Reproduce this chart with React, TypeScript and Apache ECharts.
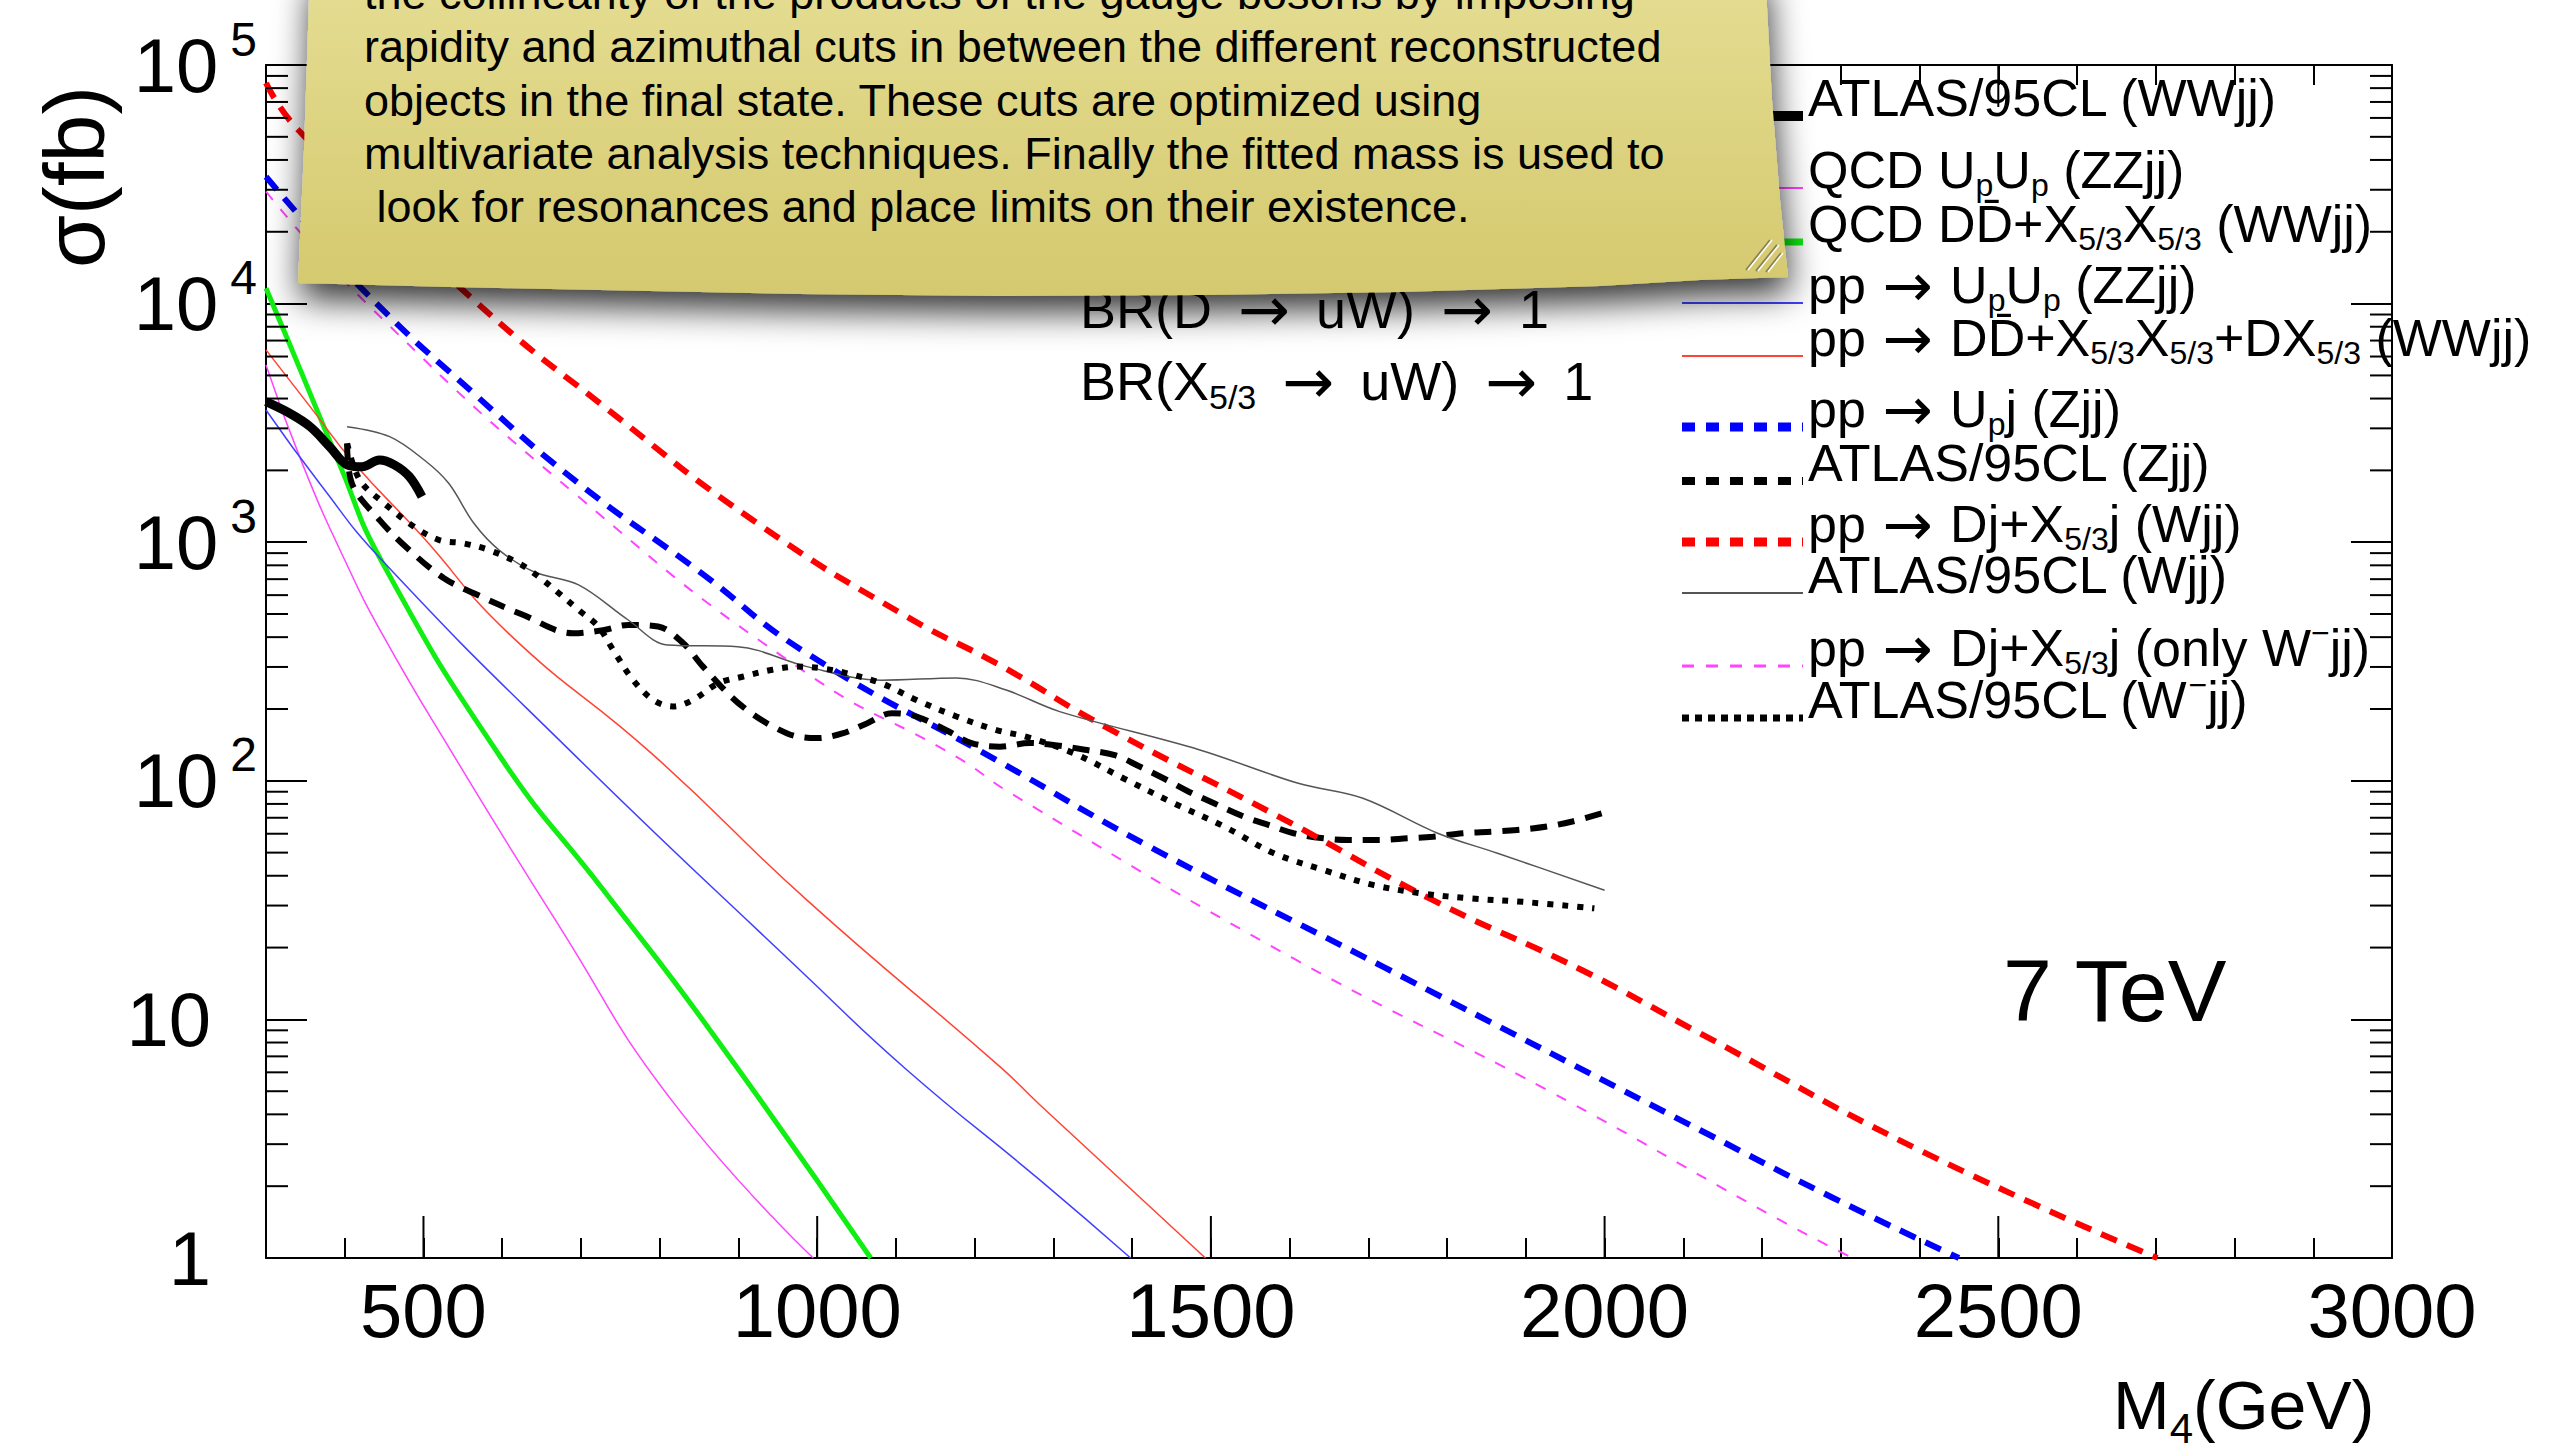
import React, { useEffect, useRef } from 'react';
import * as echarts from 'echarts';

const FONT = '"Liberation Sans", Arial, Helvetica, sans-serif';
const ARROW_FONT = '"DejaVu Sans", sans-serif';

// ---------- axes ----------
const X_MIN = 300;
const X_MAX = 3000;
const Y_MIN = 1;
const Y_MAX = 100000;
const X_LABEL_VALUES = [500, 1000, 1500, 2000, 2500, 3000];
const X_MAJOR_TICKS = [500, 1000, 1500, 2000, 2500];
const Y_DECADES = [1, 10, 100, 1000, 10000];
const Y_MINOR_MULTIPLES = [2, 3, 4, 5, 6, 7, 8, 9];

// ---------- data: [M4 (GeV), sigma (fb)] ----------
const ATLAS_WWJJ = [
  [300, 3880], [330, 3470], [356, 3050], [381, 2510], [403, 2110], [422, 2070],
  [444, 2210], [463, 2110], [482, 1884], [498, 1553],
];
const QCD_UPUP_ZZJJ = [
  [300, 5530], [346, 2140], [400, 842], [450, 399], [537, 130], [671, 25], [817, 4.5], [995, 1],
];
const QCD_DDXX_WWJJ = [
  [300, 11600], [333, 6400], [393, 2140], [446, 842], [599, 124], [728, 35], [861, 9.3], [1068, 1],
];
const PP_UPUP_ZZJJ = [
  [300, 3580], [368, 1766], [447, 842], [690, 130], [987, 15.1], [1114, 6.14], [1283, 2.12], [1398, 1],
];
const PP_DDXX_WWJJ = [
  [300, 6400], [356, 3700], [412, 2140], [495, 1089], [608, 415], [790, 130], [987, 31.6],
  [1232, 6.34], [1283, 4.38], [1493, 1],
];
const PP_UPJ_ZJJ = [
  [300, 34000], [349, 22000], [428, 11000], [564, 4200], [697, 1765], [848, 764], [987, 342],
  [1232, 120], [1422, 53], [1719, 16.6], [2121, 3.44], [2291, 1.78], [2450, 1],
];
const ATLAS_ZJJ = [
  [403, 2594], [409, 1766], [444, 1240], [482, 927], [526, 706], [564, 611], [627, 495], [690, 415],
  [728, 428], [760, 450], [798, 443], [830, 377], [855, 301], [905, 205], [962, 158], [1000, 151],
  [1032, 158], [1063, 174], [1095, 192], [1126, 186], [1164, 163], [1196, 144], [1232, 139],
  [1270, 144], [1302, 141], [1340, 135], [1378, 128], [1409, 115], [1441, 102], [1472, 90],
  [1504, 80.5], [1542, 70.8], [1573, 65.3], [1605, 60.3], [1643, 57.4], [1674, 56.5], [1712, 56.5],
  [1750, 57.4], [1782, 58.3], [1820, 60.3], [1858, 61.2], [1889, 62.2], [1927, 64.3], [1959, 67.5],
  [1997, 73.1],
];
const PP_DJXJ_WJJ = [
  [300, 84000], [341, 53400], [564, 10350], [735, 3580], [924, 1200], [1114, 487], [1232, 305],
  [1365, 169], [1586, 70.8], [1782, 31.6], [1971, 16.1], [2121, 8.75], [2404, 2.79], [2702, 1],
];
const ATLAS_WJJ = [
  [403, 3050], [457, 2770], [501, 2210], [532, 1766], [564, 1200], [596, 927], [640, 752], [697, 662],
  [760, 472], [810, 371], [899, 365], [987, 301], [1082, 264], [1177, 270], [1240, 240], [1308, 195],
  [1485, 135], [1611, 97.6], [1693, 84.5], [1788, 60.3], [1864, 49.7], [2000, 34.8],
];
const PP_DJXJ_WMJJ = [
  [300, 29500], [428, 10000], [697, 1550], [987, 282], [1177, 126], [1245, 89], [1605, 18],
  [1927, 5.06], [2223, 1.44], [2315, 1],
];
const ATLAS_WMJJ = [
  [403, 2594], [419, 1824], [450, 1456], [488, 1162], [520, 1021], [551, 989], [583, 927], [621, 816],
  [646, 718], [672, 611], [697, 520], [722, 443], [741, 353], [766, 265], [792, 218], [817, 205],
  [842, 218], [874, 256], [905, 273], [943, 292], [975, 301], [1006, 296], [1038, 282], [1082, 256],
  [1126, 218], [1177, 186], [1228, 163], [1265, 153], [1327, 130], [1390, 102], [1453, 80.5],
  [1517, 64.3], [1580, 49.7], [1643, 42.3], [1706, 36.6], [1769, 33.7], [1832, 32.1], [1896, 31.1],
  [1987, 29.2],
];

// ---------- texts ----------
const SERIES_NAMES = [
  'ATLAS/95CL (WWjj)',
  'QCD UpUp (ZZjj)',
  'QCD DD\u0304+X5/3X5/3 (WWjj)',
  'pp\u2192UpUp (ZZjj)',
  'pp\u2192DD\u0304+X5/3X5/3+DX5/3 (WWjj)',
  'pp\u2192Upj (Zjj)',
  'ATLAS/95CL (Zjj)',
  'pp\u2192Dj+X5/3j (Wjj)',
  'ATLAS/95CL (Wjj)',
  'pp\u2192Dj+X5/3j (only W\u2212jj)',
  'ATLAS/95CL (W\u2212jj)',
];
const LEGEND_TEXTS = [
  'ATLAS/95CL (WWjj)',
  'QCD U{sub|p}U{sub|p} (ZZjj)',
  'QCD DD\u0304+X{sub|5/3}X{sub|5/3} (WWjj)',
  'pp{arr|\u2192}U{sub|p}U{sub|p} (ZZjj)',
  'pp{arr|\u2192}DD\u0304+X{sub|5/3}X{sub|5/3}+DX{sub|5/3} (WWjj)',
  'pp{arr|\u2192}U{sub|p}j (Zjj)',
  'ATLAS/95CL (Zjj)',
  'pp{arr|\u2192}Dj+X{sub|5/3}j (Wjj)',
  'ATLAS/95CL (Wjj)',
  'pp{arr|\u2192}Dj+X{sub|5/3}j (only W{sup|\u2212}jj)',
  'ATLAS/95CL (W{sup|\u2212}jj)',
];
const BR_TEXTS = ['BR(D{arr|\u2192}uW){arr|\u2192}1', 'BR(X{sub|5/3}{arr|\u2192}uW){arr|\u2192}1'];
const NOTE_LINES = [
  'the collinearity of the products of the gauge bosons by imposing',
  'rapidity and azimuthal cuts in between the different reconstructed',
  'objects in the final state. These cuts are optimized using',
  'multivariate analysis techniques. Finally the fitted mass is used to',
  ' look for resonances and place limits on their existence.',
];

// ---------- styles ----------
type Sty = { color: string; width: number; dash: number[] | 'solid'; lw: number; ldash: number[] | null; smooth: number };
const STYLES: Sty[] = [
  { color: '#000000', width: 9, dash: 'solid', lw: 10, ldash: null, smooth: 0.35 },
  { color: '#ff44ff', width: 1.5, dash: 'solid', lw: 2, ldash: null, smooth: 0.5 },
  { color: '#11ee11', width: 5, dash: 'solid', lw: 7, ldash: null, smooth: 0.5 },
  { color: '#4040ff', width: 1.5, dash: 'solid', lw: 2, ldash: null, smooth: 0.5 },
  { color: '#ff4433', width: 1.5, dash: 'solid', lw: 2, ldash: null, smooth: 0.5 },
  { color: '#0000ff', width: 6, dash: [17, 11], lw: 9, ldash: [13, 11], smooth: 0.5 },
  { color: '#000000', width: 6, dash: [17, 11], lw: 8, ldash: [13, 11], smooth: 0.35 },
  { color: '#ff0000', width: 6, dash: [17, 11], lw: 9, ldash: [13, 11], smooth: 0.5 },
  { color: '#555555', width: 1.5, dash: 'solid', lw: 2, ldash: null, smooth: 0.35 },
  { color: '#ff44ff', width: 2, dash: [11, 12], lw: 3, ldash: [12, 12], smooth: 0.5 },
  { color: '#000000', width: 6, dash: [6, 9], lw: 7, ldash: [7, 6], smooth: 0.35 },
];
const SERIES_DATA = [
  ATLAS_WWJJ, QCD_UPUP_ZZJJ, QCD_DDXX_WWJJ, PP_UPUP_ZZJJ, PP_DDXX_WWJJ, PP_UPJ_ZJJ,
  ATLAS_ZJJ, PP_DJXJ_WJJ, ATLAS_WJJ, PP_DJXJ_WMJJ, ATLAS_WMJJ,
];
const LEGEND_BASELINES = [116, 188, 242, 303, 356, 427, 481, 542, 593, 666, 718];

function buildOption(): any {
  const series: any[] = SERIES_DATA.map((d, i) => ({
    name: SERIES_NAMES[i],
    type: 'line',
    data: d,
    showSymbol: false,
    symbol: 'none',
    smooth: STYLES[i].smooth,
    silent: true,
    z: i === 0 ? 4 : 3,
    lineStyle: { color: STYLES[i].color, width: STYLES[i].width, type: STYLES[i].dash, cap: 'butt' },
  }));

  const yMinor: number[][] = [];
  Y_DECADES.forEach((d) => Y_MINOR_MULTIPLES.forEach((m) => yMinor.push([X_MIN, m * d])));

  series.push({
    type: 'custom',
    name: 'xMajorTicks',
    silent: true,
    z: 6,
    data: X_MAJOR_TICKS.map((v) => [v, Y_MIN]),
    renderItem: (_p: any, api: any) => {
      const x = api.value(0);
      const b = api.coord([x, Y_MIN]);
      const t = api.coord([x, Y_MAX]);
      return {
        type: 'group',
        children: [
          { type: 'line', shape: { x1: b[0], y1: b[1], x2: b[0], y2: b[1] - 42 }, style: { stroke: '#000', lineWidth: 2 } },
          { type: 'line', shape: { x1: t[0], y1: t[1], x2: t[0], y2: t[1] + 42 }, style: { stroke: '#000', lineWidth: 2 } },
        ],
      };
    },
  });
  series.push({
    type: 'custom',
    name: 'yMinorTicks',
    silent: true,
    z: 6,
    data: yMinor,
    renderItem: (_p: any, api: any) => {
      const y = api.value(1);
      const l = api.coord([X_MIN, y]);
      const r = api.coord([X_MAX, y]);
      return {
        type: 'group',
        children: [
          { type: 'line', shape: { x1: l[0], y1: l[1], x2: l[0] + 22, y2: l[1] }, style: { stroke: '#000', lineWidth: 2 } },
          { type: 'line', shape: { x1: r[0], y1: r[1], x2: r[0] - 22, y2: r[1] }, style: { stroke: '#000', lineWidth: 2 } },
        ],
      };
    },
  });

  const axisLine = { show: true, onZero: false, lineStyle: { color: '#000', width: 2 } };
  const xBase = {
    type: 'value', min: X_MIN, max: X_MAX, interval: 100, splitLine: { show: false },
    axisLine, axisTick: { show: true, inside: true, length: 20, lineStyle: { color: '#000', width: 2 } },
  };
  const yBase = {
    type: 'log', logBase: 10, min: Y_MIN, max: Y_MAX, splitLine: { show: false },
    axisLine, axisTick: { show: true, inside: true, length: 41, lineStyle: { color: '#000', width: 2 } },
  };

  const legRich = {
    sub: { fontSize: 32, fontFamily: FONT, fill: '#000', lineHeight: 32, verticalAlign: 'bottom' },
    sup: { fontSize: 32, fontFamily: FONT, fill: '#000', lineHeight: 32, verticalAlign: 'top' },
    arr: { fontSize: 60, fontFamily: ARROW_FONT, fill: '#000', lineHeight: 40, verticalAlign: 'middle', padding: [0, 17, 0, 17] },
  };

  const graphic: any[] = [];
  // legend samples and texts
  LEGEND_TEXTS.forEach((t, i) => {
    const s = STYLES[i];
    const y = LEGEND_BASELINES[i];
    graphic.push({
      type: 'line', z: 50,
      shape: { x1: 1682, y1: y, x2: 1803, y2: y },
      style: { stroke: s.color, lineWidth: s.lw, lineDash: s.ldash || undefined, lineCap: 'butt' },
    });
    graphic.push({
      type: 'text', z: 50, x: 1808, y: y - 49,
      style: {
        text: t, fontSize: 52, fontFamily: FONT, fill: '#000', lineHeight: 62,
        align: 'left', verticalAlign: 'top', rich: legRich,
      },
    });
  });
  // BR texts
  const brBaselines = [328, 400];
  BR_TEXTS.forEach((t, i) => {
    graphic.push({
      type: 'text', z: 50, x: 1080, y: brBaselines[i] - 51.7,
      style: {
        text: t, fontSize: 54, fontFamily: FONT, fill: '#000', lineHeight: 66,
        align: 'left', verticalAlign: 'top',
        rich: {
          sub: { fontSize: 34, fontFamily: FONT, fill: '#000', lineHeight: 34, verticalAlign: 'bottom' },
          arr: { fontSize: 62, fontFamily: ARROW_FONT, fill: '#000', lineHeight: 40, verticalAlign: 'middle', padding: [0, 26, 0, 26] },
        },
      },
    });
  });
  // 7 TeV
  graphic.push({
    type: 'text', z: 50, x: 2003, y: 990,
    style: { text: '7 TeV', fontSize: 88, fontFamily: FONT, fill: '#000', align: 'left', verticalAlign: 'middle' },
  });
  // axis titles
  graphic.push({
    type: 'text', z: 50, x: 74, y: 177, rotation: Math.PI / 2,
    style: { text: '\u03c3(fb)', fontSize: 86, fontFamily: FONT, fill: '#000', align: 'center', verticalAlign: 'middle' },
  });
  graphic.push({
    type: 'text', z: 50, x: 2113, y: 1430 - 68.6,
    style: {
      text: 'M{sub|4}(GeV)', fontSize: 68, fontFamily: FONT, fill: '#000', lineHeight: 88,
      align: 'left', verticalAlign: 'top',
      rich: { sub: { fontSize: 42, fontFamily: FONT, fill: '#000', lineHeight: 42, verticalAlign: 'bottom' } },
    },
  });
  // sticky note
  graphic.push({
    type: 'polygon', z: 200,
    shape: {
      points: [
        [310, -30], [1765, -30], [1772, 100], [1780, 200], [1788, 277], [1700, 280], [1600, 286],
        [1400, 292], [1200, 295], [1000, 296], [800, 294], [600, 290], [450, 287], [298, 283], [304, 150],
      ],
    },
    style: {
      fill: {
        type: 'linear', x: 0, y: 0, x2: 0, y2: 1,
        colorStops: [{ offset: 0, color: '#e5dd93' }, { offset: 1, color: '#d4c96e' }],
      },
      shadowBlur: 34, shadowOffsetY: 16, shadowOffsetX: 2, shadowColor: 'rgba(0,0,0,0.8)',
    },
  });
  [[1746, 270, 1770, 240], [1756, 271, 1777, 245], [1766, 272, 1781, 253]].forEach((p) => {
    graphic.push({ type: 'line', z: 201, shape: { x1: p[0], y1: p[1], x2: p[2], y2: p[3] }, style: { stroke: '#8a8350', lineWidth: 2 } });
    graphic.push({ type: 'line', z: 201, shape: { x1: p[0] + 2, y1: p[1], x2: p[2] + 2, y2: p[3] }, style: { stroke: '#ffffff', lineWidth: 1.5 } });
  });
  graphic.push({
    type: 'text', z: 202, x: 364, y: -33,
    style: {
      text: NOTE_LINES.join('\n'), fontSize: 45, fontFamily: FONT, fill: '#000', lineHeight: 53.3,
      align: 'left', verticalAlign: 'top',
    },
  });

  return {
    animation: false,
    backgroundColor: '#ffffff',
    grid: { left: 266, right: 177, top: 65, bottom: 193, containLabel: false },
    xAxis: [
      {
        ...xBase, position: 'bottom',
        axisLabel: {
          show: true, margin: 14, fontSize: 76, fontFamily: FONT, color: '#000',
          formatter: (v: number) => (X_LABEL_VALUES.indexOf(Math.round(v)) >= 0 ? String(Math.round(v)) : ''),
        },
      },
      { ...xBase, position: 'top', axisLabel: { show: false } },
    ],
    yAxis: [
      {
        ...yBase, position: 'left',
        axisLabel: {
          show: true, margin: 9, color: '#000',
          formatter: (v: number) => {
            const e = Math.round(Math.log10(v));
            if (e === 0) return '{b|1}{sp|}';
            if (e === 1) return '{b|10}{sp|}';
            return '{b|10}{s|' + e + '}';
          },
          rich: {
            b: { fontSize: 76, fontFamily: FONT, color: '#000', lineHeight: 100, verticalAlign: 'middle' },
            s: { fontSize: 48, fontFamily: FONT, color: '#000', lineHeight: 48, verticalAlign: 'top', padding: [0, 0, 0, 12] },
            sp: { width: 46, lineHeight: 100 },
          },
        },
      },
      { ...yBase, position: 'right', axisLabel: { show: false } },
    ],
    legend: { show: false },
    tooltip: { show: false },
    series,
    graphic: { elements: graphic },
  };
}

export default function App() {
  const ref = useRef<HTMLDivElement>(null);
  useEffect(() => {
    document.body.style.margin = '0';
    document.body.style.overflow = 'hidden';
    const chart = echarts.init(ref.current as HTMLDivElement, undefined, { renderer: 'svg', width: 2569, height: 1451 });
    chart.setOption(buildOption());
    return () => chart.dispose();
  }, []);
  return <div ref={ref} style={{ width: 2569, height: 1451 }} />;
}
